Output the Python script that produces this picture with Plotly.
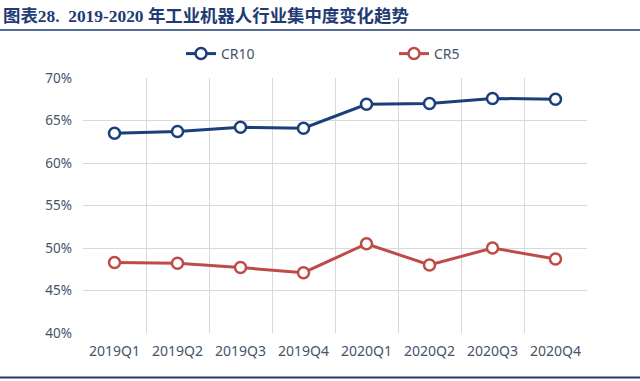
import plotly.graph_objects as go

categories = ["2019Q1", "2019Q2", "2019Q3", "2019Q4", "2020Q1", "2020Q2", "2020Q3", "2020Q4"]
cr10 = [63.5, 63.7, 64.2, 64.1, 66.9, 67.0, 67.6, 67.5]
cr5 = [48.3, 48.2, 47.7, 47.1, 50.5, 48.0, 50.0, 48.7]
y_ticks = [40, 45, 50, 55, 60, 65, 70]
y_labels = [f"{v}%" for v in y_ticks]

title_text = "图表28.  2019-2020 年工业机器人行业集中度变化趋势"

W, H = 640, 381
ml, mr, mt, mb = 83, 53, 78, 48
PW, PH = W - ml - mr, H - mt - mb

def px_x(x):
    return (x - ml) / PW

def px_y(y):
    return (H - mb - y) / PH

fig = go.Figure()
fig.add_trace(go.Scatter(
    x=categories, y=cr10, name="CR10", mode="lines+markers", legend="legend",
    line=dict(color="#1B3F7A", width=3),
    marker=dict(symbol="circle", size=11, color="white", line=dict(color="#1B3F7A", width=2.5)),
))
fig.add_trace(go.Scatter(
    x=categories, y=cr5, name="CR5", mode="lines+markers", legend="legend2",
    line=dict(color="#BE4B48", width=3),
    marker=dict(symbol="circle", size=11, color="white", line=dict(color="#BE4B48", width=2.5)),
))

fam = "Noto Sans, DejaVu Sans, sans-serif"
leg_font = dict(family=fam, size=14, color="#44546A")

fig.update_layout(
    width=W, height=H,
    margin=dict(l=ml, r=mr, t=mt, b=mb, pad=0),
    paper_bgcolor="white", plot_bgcolor="white",
    showlegend=True,
    legend=dict(
        orientation="h", x=px_x(181), xanchor="left",
        y=px_y(54), yanchor="middle", font=leg_font, bgcolor="rgba(0,0,0,0)",
    ),
    legend2=dict(
        orientation="h", x=px_x(394), xanchor="left",
        y=px_y(54), yanchor="middle", font=leg_font, bgcolor="rgba(0,0,0,0)",
    ),
    xaxis=dict(
        type="category", tickson="boundaries", showgrid=True, gridcolor="#D9D9D9", gridwidth=1,
        showline=False, zeroline=False, ticks="", tickfont=dict(family=fam, size=14, color="#44546A"),
        range=[-0.5, 7.5], ticklabelstandoff=8,
    ),
    yaxis=dict(
        range=[40, 70], tickvals=y_ticks, ticktext=y_labels, showgrid=True,
        gridcolor="#D9D9D9", gridwidth=1, zeroline=False, showline=False, ticks="",
        tickfont=dict(family=fam, size=13.5, color="#44546A"), ticklabelstandoff=10,
    ),
    annotations=[dict(
        text="<b>" + title_text + "</b>", xref="paper", yref="paper",
        x=px_x(1), xanchor="left",
        y=px_y(16.5), yanchor="middle",
        showarrow=False,
        font=dict(family="Liberation Serif, Noto Sans CJK SC, serif", size=17.4, color="#1F3B73"),
    )],
    shapes=[
        dict(type="line", xref="paper", yref="paper",
             x0=px_x(0), x1=px_x(W),
             y0=px_y(30), y1=px_y(30),
             line=dict(color="#1F3B73", width=1.5)),
        dict(type="line", xref="paper", yref="paper",
             x0=px_x(0), x1=px_x(W),
             y0=px_y(377.5), y1=px_y(377.5),
             line=dict(color="#1F3B73", width=2)),
    ],
)

fig.write_html(
    "out.html",
    config={"displayModeBar": False},
    post_script="document.body.style.margin='0';document.body.style.padding='0';document.body.style.overflow='hidden';",
)
